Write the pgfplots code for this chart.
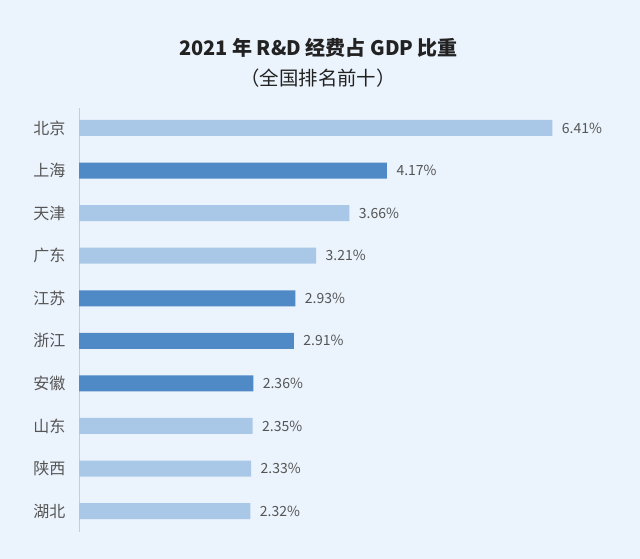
\documentclass[border=0pt]{standalone}
\usepackage{pgfplots}
\pgfplotsset{compat=1.18}
\usepackage{fontspec}
\setmainfont{Noto Sans CJK SC}
\definecolor{bgc}{HTML}{EBF3FC}
\definecolor{lightbar}{HTML}{A9C8E8}
\definecolor{darkbar}{HTML}{4F8AC6}
\definecolor{txt}{HTML}{555555}
\definecolor{ttl}{HTML}{222222}
\begin{document}
\begin{tikzpicture}[x=1pt,y=1pt]
\fill[bgc] (0,0) rectangle (640,559);
\node[font=\fontsize{20}{24}\selectfont\bfseries, text=ttl, anchor=center] at (318.5,511.5) {2021 年 R\&D 经费占 GDP 比重};
\node[font=\fontsize{19.4}{22}\selectfont, text=ttl, anchor=center] at (318,481) {（全国排名前十）};
\begin{axis}[
  at={(79pt,27pt)}, anchor=south west,
  scale only axis, width=517pt, height=424pt,
  xmin=0, xmax=7, ymin=-0.49, ymax=9.47,
  axis x line=none,
  axis y line*=left,
  y axis line style={draw=black!20, line width=1pt, -},
  xtick=\empty,
  ytick={0,...,9},
  yticklabels={湖北,陕西,山东,安徽,浙江,江苏,广东,天津,上海,北京},
  yticklabel style={font=\fontsize{16}{18}\selectfont, text=txt, xshift=-10pt},
  major tick length=0pt,
  xbar, bar width=16pt, bar shift=0pt,
  clip=false,
  /pgf/number format/assume math mode=true,
  nodes near coords={\pgfmathprintnumber[fixed,precision=2,fixed zerofill,assume math mode=true]{\pgfplotspointmeta}\%},
  nodes near coords style={font=\fontsize{14}{16}\selectfont, text=txt, anchor=west, xshift=6pt},
  point meta=x,
]
\addplot[draw=none, fill=lightbar] coordinates {(6.41,9) (3.66,7) (3.21,6) (2.35,2) (2.33,1) (2.32,0)};
\addplot[draw=none, fill=darkbar] coordinates {(4.17,8) (2.93,5) (2.91,4) (2.36,3)};
\end{axis}
\end{tikzpicture}
\end{document}
